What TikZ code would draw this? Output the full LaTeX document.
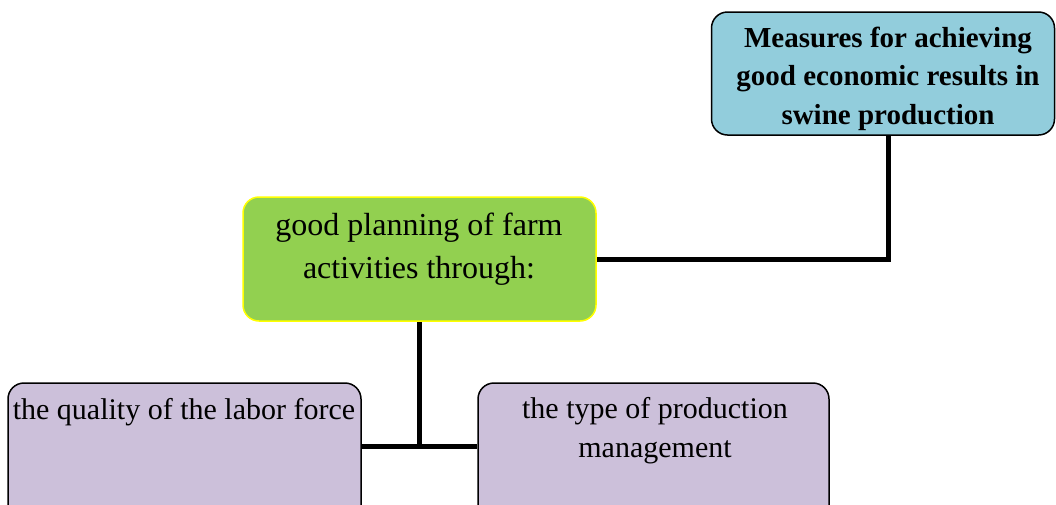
\documentclass[tikz,border=0pt]{standalone}
\usepackage{fontspec}
\setmainfont{Liberation Serif}
\definecolor{topblue}{HTML}{92CDDC}
\definecolor{midgreen}{HTML}{92D050}
\definecolor{lowpurple}{HTML}{CCC0DA}
\definecolor{edgeyellow}{HTML}{FFFF00}
\begin{document}
\begin{tikzpicture}[x=1pt,y=-1pt]
\tikzset{
  box/.style={draw, rounded corners=16pt, line width=1.5pt, inner sep=0pt},
  conn/.style={line width=5pt},
  lbl/.style={align=center, inner sep=0pt}
}
\useasboundingbox (0,0) rectangle (1056,504);
\clip (0,0) rectangle (1056,504);
\node[box, fill=topblue, minimum width=343pt, minimum height=123pt] (top) at (883,73.5) {};
\node[box, fill=midgreen, draw=edgeyellow, minimum width=353pt, minimum height=124pt] (mid) at (419.5,259) {};
\node[box, fill=lowpurple, minimum width=353pt, minimum height=140pt] (left) at (184.5,453) {};
\node[box, fill=lowpurple, minimum width=351pt, minimum height=140pt] (right) at (653.5,453) {};
\node[lbl, font=\fontsize{29}{38.5}\selectfont\bfseries] (toptext) at (888,78.5) {Measures for achieving\\good economic results in\\swine production};
\node[lbl, font=\fontsize{32}{43}\selectfont] (midtext) at (419,249.5) {good planning of farm\\activities through:};
\node[lbl, font=\fontsize{30}{39}\selectfont] (lefttext) at (184,412) {the quality of the labor force};
\node[lbl, font=\fontsize{30}{39}\selectfont] (righttext) at (655,431) {the type of production\\management};
\coordinate (topdrop) at (888,0);
\coordinate (junction) at (419.5,446);
\draw[conn] (topdrop |- top.south) -- (topdrop |- mid.east) -- (mid.east);
\draw[conn] (mid.south) -- (junction);
\draw[conn] (left.east |- junction) -- (right.west |- junction);
\end{tikzpicture}
\end{document}
